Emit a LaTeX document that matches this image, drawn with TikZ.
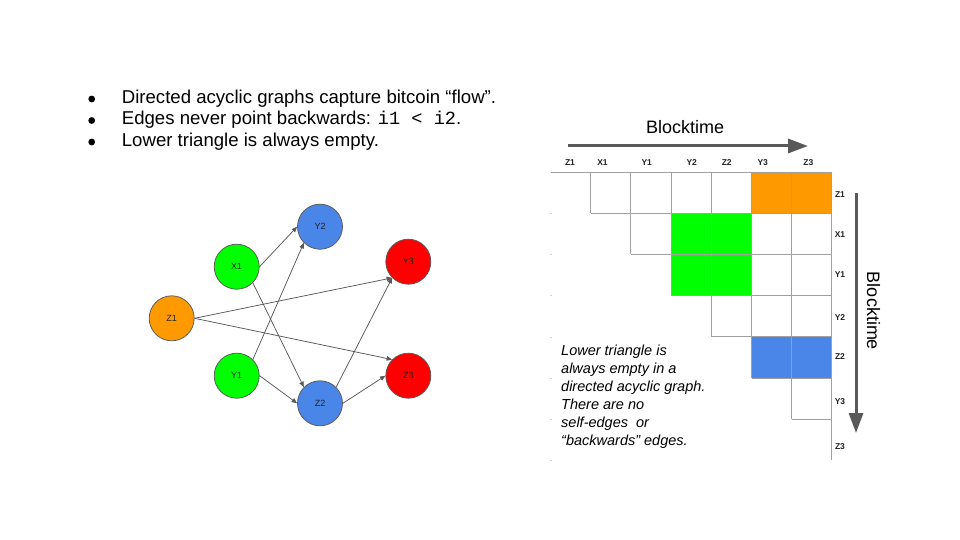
\documentclass[tikz,border=0pt]{standalone}
\usepackage{fontspec}
\setmainfont{Liberation Sans}
\newfontfamily\codefont{Liberation Mono}
\usetikzlibrary{arrows.meta}
\definecolor{edgegray}{HTML}{595959}
\definecolor{gridgray}{HTML}{A0A0A0}
\definecolor{dagorange}{HTML}{FF9900}
\definecolor{daggreen}{HTML}{00FF00}
\definecolor{dagblue}{HTML}{4A86E8}
\definecolor{dagred}{HTML}{FF0000}
\definecolor{labelink}{HTML}{222222}

\begin{document}
\begin{tikzpicture}[x=1pt,y=-1pt,
  vertex/.style={circle,draw=edgegray,line width=0.75pt,minimum size=45pt,inner sep=0pt,
    font=\fontsize{9}{10}\selectfont,text=labelink},
  edge/.style={draw=edgegray,line width=0.75pt,-{Triangle[length=5.5pt,width=4.5pt]}},
  timearrow/.style={draw=edgegray,line width=3pt,-{Triangle[length=20pt,width=14pt]}},
  gridline/.style={draw=gridgray,line width=0.9pt},
  hdr/.style={inner sep=0pt,font=\fontsize{8.5}{9}\selectfont\bfseries,text=labelink},
  bullettext/.style={anchor=base west,inner sep=0pt,font=\fontsize{18.6}{21}\selectfont,text=black},
  bigtitle/.style={inner sep=0pt,font=\fontsize{18}{21}\selectfont,text=black}
]
% canvas
\useasboundingbox[fill=white] (0,0) rectangle (960,540);

% ---------- bullet list ----------
\fill (91.7,99) circle (3.4pt);
\fill (91.7,120.5) circle (3.4pt);
\fill (91.7,142) circle (3.4pt);
\node[bullettext] (b1) at (121.7,103.5) {Directed acyclic graphs capture bitcoin “flow”.};
\node[bullettext] (b2) at (121.7,125) {Edges never point backwards: {\codefont i1 < i2}.};
\node[bullettext] (b3) at (121.7,146.5) {Lower triangle is always empty.};

% ---------- the graph ----------
\node[vertex,fill=dagorange] (Z1) at (171.7,318.3) {Z1};
\node[vertex,fill=daggreen]  (X1) at (236.7,266.7) {X1};
\node[vertex,fill=daggreen]  (Y1) at (236.7,375.7) {Y1};
\node[vertex,fill=dagblue]   (Y2) at (320,226.7) {Y2};
\node[vertex,fill=dagblue]   (Z2) at (320,403.3) {Z2};
\node[vertex,fill=dagred]    (Y3) at (408.3,261.7) {Y3};
\node[vertex,fill=dagred]    (Z3) at (408.3,375.7) {Z3};

\draw[edge] (X1.east) -- (Y2.west);
\draw[edge] (X1.south east) -- (Z2.north west);
\draw[edge] (Y1.north east) -- (Y2.south west);
\draw[edge] (Y1.east) -- (Z2.west);
\draw[edge] (Z1.east) -- (Y3.south west);
\draw[edge] (Z1.east) -- (Z3.north west);
\draw[edge] (Z2.north east) -- (Y3.south west);
\draw[edge] (Z2.east) -- (Z3.west);

% ---------- adjacency matrix ----------
% cell columns x_c = 550.5 + 40.2 c, rows y_r = 172 + 41.2 r
\fill[dagorange] (751.5,172) rectangle (831.9,213.2);
\fill[daggreen]  (671.1,213.2) rectangle (751.5,295.6);
\fill[dagblue]   (751.5,336.8) rectangle (831.9,378);

\foreach \r in {0,...,6}
  \draw[gridline] (550.5+40.2*\r,172+41.2*\r) -- (831.9,172+41.2*\r);
\foreach \c in {1,...,7}
  \draw[gridline] (550.5+40.2*\c,172) -- (550.5+40.2*\c,172+41.2*\c);
% faint border stubs along the empty left edge
\foreach \r in {1,...,7}
  \draw[gridgray!45,line width=0.6pt] (549.5,172+41.2*\r) -- (551.5,172+41.2*\r);

\foreach \lab/\hx in {Z1/570, X1/602.5, Y1/646.7, Y2/691.7, Z2/726.7, Y3/762.7, Z3/808.3}
  \node[hdr] (col-\lab) at (\hx,163) {\lab};
\foreach \lab/\ry in {Z1/195, X1/235, Y1/275, Y2/318, Z2/356.7, Y3/401.7, Z3/446.7}
  \node[hdr] (row-\lab) at (840,\ry) {\lab};

% time axes
\coordinate (hstart) at (568,146);
\coordinate (hend) at (808,146);
\draw[timearrow] (hstart) -- (hend);
\node[bigtitle] (htitle) at (685,127) {Blocktime};

\coordinate (vstart) at (856,193);
\coordinate (vend) at (856,433);
\draw[timearrow] (vstart) -- (vend);
\node[bigtitle,rotate=-90] (vtitle) at (873.5,311) {Blocktime};

% note
\node[anchor=north west,align=left,inner sep=0pt,
      font=\fontsize{14.5}{18}\selectfont\itshape,text=black] (note) at (561,344.5)
  {Lower triangle is\\always empty in a\\directed acyclic graph.\\There are no\\self-edges\ \ or\\“backwards” edges.};
\end{tikzpicture}
\end{document}
